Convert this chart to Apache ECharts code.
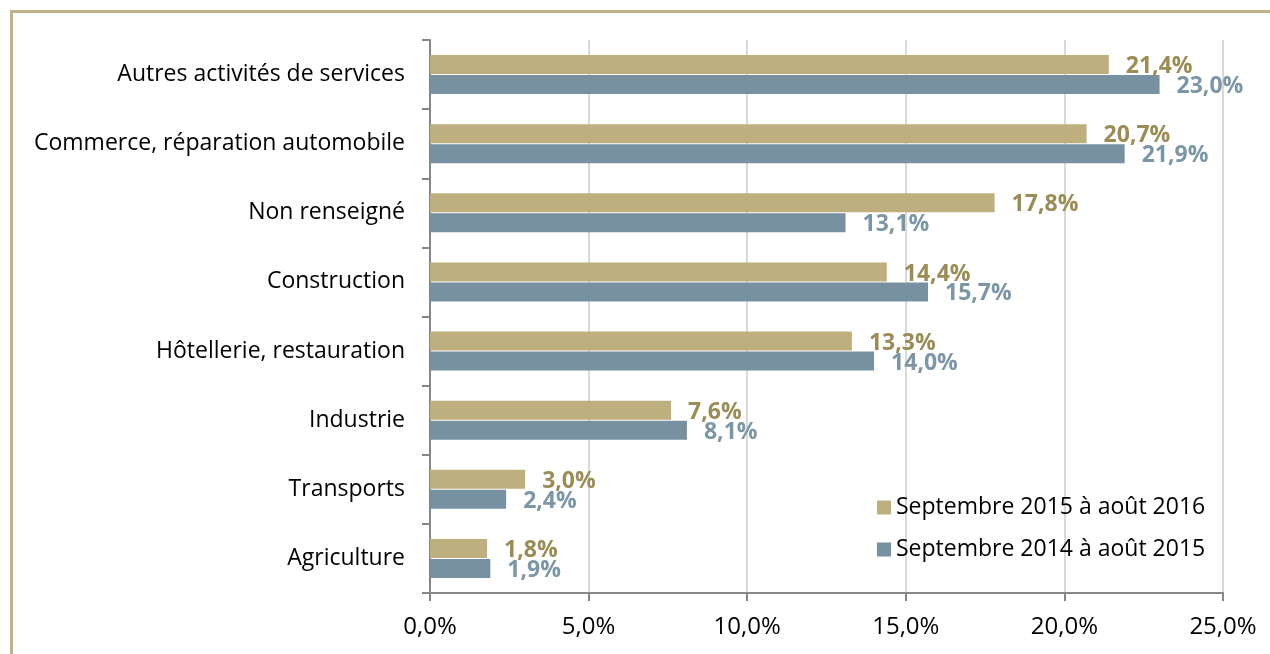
<!DOCTYPE html>
<html>
<head>
<meta charset="utf-8">
<script src="https://cdn.jsdelivr.net/npm/echarts@6/dist/echarts.min.js"></script>
<style>
  html, body { margin: 0; padding: 0; background: #ffffff; }
  #wrap { position: relative; width: 1270px; height: 654px; overflow: hidden; }
  #frame {
    position: absolute; left: 10px; top: 10px; width: 1300px; height: 700px;
    border-top: 3px solid #C0B385; border-left: 3px solid #C0B385;
  }
  #chart { position: absolute; left: 0; top: 0; width: 1270px; height: 654px; }
</style>
</head>
<body>
<div id="wrap">
  <div id="frame"></div>
  <div id="chart"></div>
</div>
<script>
// catégories (de haut en bas)
const categories = [
  'Autres activités de services',
  'Commerce, réparation automobile',
  'Non renseigné',
  'Construction',
  'Hôtellerie, restauration',
  'Industrie',
  'Transports',
  'Agriculture'
];
const seriesNames = ['Septembre 2015 à août 2016', 'Septembre 2014 à août 2015'];
const values2016 = [21.4, 20.7, 17.8, 14.4, 13.3, 7.6, 3.0, 1.8];
const values2015 = [23.0, 21.9, 13.1, 15.7, 14.0, 8.1, 2.4, 1.9];

const fmt = v => v.toFixed(1).replace('.', ',') + '%';
const font = '"Open Sans", Lato, sans-serif';

const myChart = echarts.init(document.getElementById('chart'), null, { renderer: 'canvas' });

const option = {
  animation: false,
  backgroundColor: 'transparent',
  grid: { left: 430, right: 47, top: 40, bottom: 61 },
  legend: {
    orient: 'vertical',
    left: 872,
    top: 491,
    icon: 'rect',
    itemWidth: 14,
    itemHeight: 14,
    itemGap: 19,
    itemStyle: { borderWidth: 0 },
    data: seriesNames,
    textStyle: { color: '#000', fontSize: 23, fontFamily: font }
  },
  xAxis: {
    type: 'value',
    min: 0,
    max: 25,
    interval: 5,
    axisLine: { show: true, lineStyle: { color: '#868686', width: 2 } },
    axisTick: { show: true, length: 8, lineStyle: { color: '#868686', width: 2 } },
    axisLabel: {
      formatter: v => fmt(v),
      color: '#000', fontSize: 24, fontFamily: font, margin: 22
    },
    splitLine: { show: true, lineStyle: { color: '#d9d9d9', width: 2 } }
  },
  yAxis: {
    type: 'category',
    inverse: true,
    data: categories,
    axisLine: { show: true, lineStyle: { color: '#868686', width: 2 } },
    axisTick: { show: true, length: 8, lineStyle: { color: '#868686', width: 2 } },
    axisLabel: { color: '#000', fontSize: 23, fontFamily: font, margin: 25 }
  },
  series: [
    {
      name: seriesNames[0],
      type: 'bar',
      data: values2016,
      barWidth: 19,
      barGap: '5%',
      itemStyle: { color: '#BDB07E' },
      label: {
        show: true, position: 'right', distance: 17, offset: [0, 2],
        formatter: p => fmt(p.value),
        color: '#9A8C55', fontWeight: 'bold', fontSize: 23, fontFamily: font
      }
    },
    {
      name: seriesNames[1],
      type: 'bar',
      data: values2015,
      barWidth: 19,
      itemStyle: { color: '#7891A0' },
      label: {
        show: true, position: 'right', distance: 17, offset: [0, 2],
        formatter: p => fmt(p.value),
        color: '#7C96A6', fontWeight: 'bold', fontSize: 23, fontFamily: font
      }
    }
  ]
};

myChart.setOption(option);
</script>
</body>
</html>
